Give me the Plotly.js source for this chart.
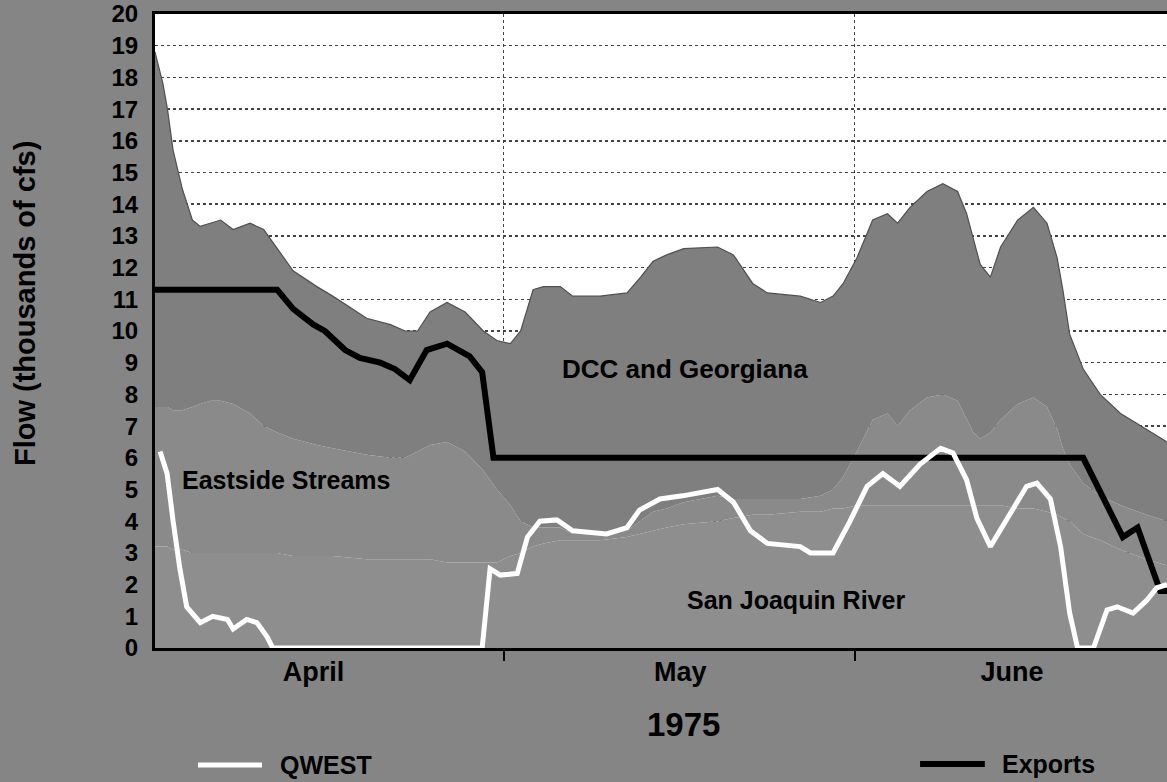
<!DOCTYPE html>
<html><head><meta charset="utf-8">
<script src="https://cdn.plot.ly/plotly-3.0.1.min.js"></script>
<style>html,body{margin:0;padding:0;background:#858585;} #chart{width:1167px;height:782px;}</style>
</head><body><div id="chart"></div>
<script>
// x values: days since 1 April 1975
const day = [-0.8,-0.1,0.3,0.8,1.6,2.5,3.2,4.1,5.0,6.1,7.6,8.8,10.0,11.4,13.5,14.9,17.9,20.0,21.3,22.4,23.5,25.0,26.6,28.2,29.4,30.6,31.5,32.6,33.5,35.0,36.1,38.5,40.9,42.1,43.2,44.4,45.9,48.9,50.3,52.0,53.3,56.2,58.0,59.1,60.0,61.2,62.6,63.9,64.8,65.9,67.4,68.8,70.1,70.9,71.5,72.1,73.0,73.9,75.4,76.8,78.0,78.9,79.4,80.0,81.2,82.7,84.5,86.8,88.6];
const sanJoaquin = [3.2,3.2,3.2,3.1,3.1,3.0,3.0,3.0,3.0,3.0,3.0,3.0,3.0,2.9,2.9,2.9,2.8,2.8,2.8,2.8,2.8,2.7,2.7,2.7,2.7,2.9,3.0,3.2,3.3,3.4,3.4,3.4,3.5,3.6,3.7,3.8,3.9,4.0,4.1,4.2,4.2,4.3,4.3,4.4,4.4,4.5,4.5,4.5,4.5,4.5,4.5,4.5,4.5,4.5,4.5,4.5,4.5,4.5,4.4,4.4,4.3,4.2,4.1,4.0,3.6,3.4,3.1,2.8,2.6];
const eastside = [4.4,4.4,4.4,4.4,4.4,4.6,4.7,4.8,4.8,4.7,4.4,4.0,3.8,3.7,3.5,3.4,3.3,3.2,3.2,3.4,3.6,3.8,3.5,2.9,2.3,1.6,1.0,0.6,0.5,0.4,0.2,0.2,0.2,0.4,0.6,0.6,0.7,0.8,0.6,0.5,0.5,0.4,0.5,0.6,1.0,1.7,2.7,2.9,2.5,3.0,3.4,3.5,3.3,2.7,2.3,2.1,2.3,2.7,3.3,3.5,3.3,2.7,2.2,1.8,1.6,1.4,1.4,1.4,1.4];
const dccGeorgiana = [11.2,10.2,9.4,8.2,7.0,5.9,5.6,5.6,5.7,5.5,6.0,6.2,5.8,5.3,5.0,4.8,4.3,4.2,4.0,3.8,4.2,4.4,4.4,4.4,4.7,5.1,6.0,7.5,7.6,7.6,7.5,7.5,7.5,7.7,7.9,8.0,8.0,7.85,7.7,6.8,6.5,6.4,6.1,6.1,6.1,6.1,6.3,6.3,6.4,6.4,6.5,6.65,6.6,6.5,6.1,5.5,4.9,5.45,5.8,6.0,5.8,5.4,5.0,4.1,3.6,3.2,2.9,2.7,2.5];

const exportsDay = [-0.8,10.0,11.4,13.2,14.2,16.0,17.3,19.1,20.4,21.7,23.2,25.0,27.0,28.1,29.1,81.2,84.7,86.0,88.0,88.6];
const exportsFlow = [11.3,11.3,10.7,10.2,10.0,9.4,9.15,9.0,8.8,8.45,9.4,9.6,9.2,8.7,6.0,6.0,3.5,3.8,1.8,1.8];

const qwestDay = [-0.35,0.27,0.8,1.4,2.0,3.2,4.3,5.6,6.1,7.3,8.2,9.1,9.6,28.1,28.8,29.7,31.2,32.1,33.2,34.7,36.1,37.4,39.1,40.9,42.0,43.8,45.8,48.9,50.3,51.8,53.3,56.2,57.1,59.1,60.6,62.1,63.5,65.0,66.8,68.6,69.7,70.9,71.8,73.0,74.5,76.2,77.1,78.3,79.2,80.0,80.7,82.1,83.3,84.2,85.6,86.8,87.7,88.6];
const qwestFlow = [6.2,5.5,4.0,2.5,1.3,0.8,1.0,0.9,0.6,0.9,0.8,0.35,0.0,0.0,2.5,2.3,2.35,3.5,4.0,4.04,3.7,3.65,3.6,3.8,4.35,4.7,4.8,5.0,4.6,3.7,3.3,3.2,3.0,3.0,4.0,5.1,5.5,5.1,5.8,6.3,6.15,5.3,4.1,3.2,4.1,5.1,5.2,4.7,3.2,1.1,0.0,0.0,1.2,1.3,1.1,1.5,1.9,2.0];

const monthLabelDays = [13.2, 45.6, 74.9];
const monthLabels = ['April', 'May', 'June'];
const monthStartDays = [30, 61];
const yTickVals = [0,1,2,3,4,5,6,7,8,9,10,11,12,13,14,15,16,17,18,19,20];
const yearLabel = '1975';
const yTitle = 'Flow (thousands of cfs)';

const FONT = 'Liberation Sans, Arial, Helvetica, sans-serif';
const xRange = [-0.8, 88.6];

const traces = [
  {x: day, y: sanJoaquin, name: 'San Joaquin River', type: 'scatter', mode: 'lines',
   stackgroup: 'flow', line: {width: 0, color: '#8e8e8e'}, fillcolor: '#8e8e8e'},
  {x: day, y: eastside, name: 'Eastside Streams', type: 'scatter', mode: 'lines',
   stackgroup: 'flow', line: {width: 0, color: '#898989'}, fillcolor: '#8a8a8a'},
  {x: day, y: dccGeorgiana, name: 'DCC and Georgiana', type: 'scatter', mode: 'lines',
   stackgroup: 'flow', line: {width: 1.2, color: '#505050'}, fillcolor: '#7f7f7f'},
  {x: exportsDay, y: exportsFlow, name: 'Exports', type: 'scatter', mode: 'lines',
   xaxis: 'x2', line: {width: 6, color: '#000000'}},
  {x: qwestDay, y: qwestFlow, name: 'QWEST', type: 'scatter', mode: 'lines',
   xaxis: 'x2', line: {width: 5, color: '#ffffff'}}
];

const layout = {
  width: 1167, height: 782,
  margin: {l: 155, r: 0, t: 14, b: 134, pad: 0},
  paper_bgcolor: '#858585',
  plot_bgcolor: '#ffffff',
  showlegend: false,
  font: {family: FONT, color: '#000', size: 22, weight: 700},
  xaxis: {
    range: xRange, tickmode: 'array', tickvals: monthStartDays, ticktext: ['', ''],
    showticklabels: false, ticks: 'outside', ticklen: 10, tickwidth: 2, tickcolor: '#000',
    showgrid: true, griddash: 'dot', gridcolor: '#444', gridwidth: 1.5,
    showline: true, linecolor: '#000', linewidth: 3, mirror: true, zeroline: false
  },
  xaxis2: {
    range: xRange, overlaying: 'x', side: 'bottom', anchor: 'y',
    tickmode: 'array', tickvals: monthLabelDays, ticktext: monthLabels, ticks: '',
    tickfont: {family: FONT, size: 27, weight: 700, color: '#000'},
    ticklabelstandoff: 5,
    showgrid: false, showline: false, zeroline: false
  },
  yaxis: {
    range: [0, 20], tickmode: 'array', tickvals: yTickVals, ticks: '',
    tickfont: {family: FONT, size: 24, weight: 700, color: '#000'},
    ticklabelstandoff: 9,
    showgrid: true, griddash: 'dot', gridcolor: '#444', gridwidth: 1.5,
    showline: true, linecolor: '#000', linewidth: 3, zeroline: false
  },
  annotations: [
    {text: yTitle, xref: 'paper', yref: 'paper', x: -0.1285, y: 0.544, textangle: -90,
     xanchor: 'center', yanchor: 'middle', showarrow: false,
     font: {family: FONT, size: 29, weight: 700, color: '#000'}},
    {text: yearLabel, xref: 'paper', yref: 'paper', x: 0.5227, y: -0.1199, xanchor: 'center', yanchor: 'middle', showarrow: false,
     font: {family: FONT, size: 33, weight: 700, color: '#000'}},
    {text: 'DCC and Georgiana', xref: 'x', yref: 'y', x: 46.0, y: 8.8, showarrow: false,
     font: {family: FONT, size: 26, weight: 700, color: '#000'}},
    {text: 'Eastside Streams', xref: 'x', yref: 'y', x: 10.8, y: 5.3, showarrow: false,
     font: {family: FONT, size: 25, weight: 700, color: '#000'}},
    {text: 'San Joaquin River', xref: 'x', yref: 'y', x: 55.8, y: 1.5, showarrow: false,
     font: {family: FONT, size: 25, weight: 700, color: '#000'}},
    {text: 'QWEST', xref: 'paper', yref: 'paper', x: 0.1215, y: -0.1845, xanchor: 'left', yanchor: 'middle', showarrow: false,
     font: {family: FONT, size: 25, weight: 700, color: '#000'}},
    {text: 'Exports', xref: 'paper', yref: 'paper', x: 0.835, y: -0.1830, xanchor: 'left', yanchor: 'middle', showarrow: false,
     font: {family: FONT, size: 25, weight: 700, color: '#000'}}
  ],
  shapes: [
    {type: 'line', xref: 'paper', yref: 'paper', x0: 0.0425, x1: 0.1057, y0: -0.1845, y1: -0.1845,
     line: {color: '#ffffff', width: 5}},
    {type: 'line', xref: 'paper', yref: 'paper', x0: 0.756, x1: 0.820, y0: -0.1830, y1: -0.1830,
     line: {color: '#000000', width: 6}}
  ]
};

Plotly.newPlot('chart', traces, layout, {displayModeBar: false, staticPlot: true});
</script>
</body></html>
